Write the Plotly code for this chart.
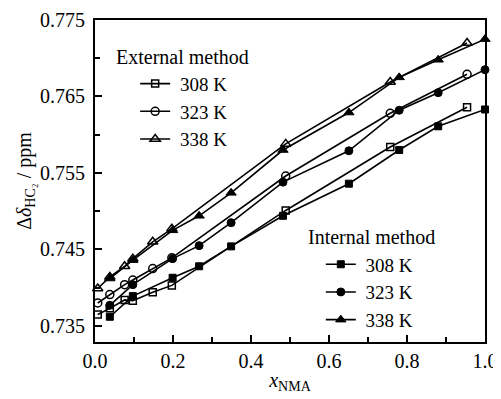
import plotly.graph_objects as go

# External method data
x_ext = [0.007, 0.038, 0.076, 0.097, 0.148, 0.197, 0.489, 0.757, 0.954]
ext_308 = [0.7365, 0.7373, 0.7384, 0.7383, 0.7394, 0.7403, 0.7501, 0.7584, 0.7636]
ext_323 = [0.7380, 0.7391, 0.7404, 0.7410, 0.7425, 0.7439, 0.7546, 0.7628, 0.7679]
ext_338 = [0.7399, 0.7414, 0.7428, 0.7438, 0.7460, 0.7477, 0.7588, 0.7669, 0.7720]

# Internal method data
x_int = [0.038, 0.097, 0.199, 0.267, 0.349, 0.482, 0.651, 0.780, 0.880, 1.0]
int_308 = [0.7362, 0.7389, 0.7413, 0.7428, 0.7454, 0.7494, 0.7536, 0.7580, 0.7611, 0.7633]
int_323 = [0.7377, 0.7404, 0.7438, 0.7455, 0.7485, 0.7538, 0.7579, 0.7632, 0.7655, 0.7685]
int_338 = [0.7412, 0.7436, 0.7475, 0.7494, 0.7524, 0.7580, 0.7629, 0.7675, 0.7698, 0.7725]

labels = ["308 K", "323 K", "338 K"]
y_ticks = [0.735, 0.745, 0.755, 0.765, 0.775]
x_ticks = [0.0, 0.2, 0.4, 0.6, 0.8, 1.0]

FONT = "Liberation Serif"
fig = go.Figure()

ext_sets = [(ext_308, "square-open", 7), (ext_323, "circle-open", 8), (ext_338, "triangle-up-open", 9)]
int_sets = [(int_308, "square", 7), (int_323, "circle", 8), (int_338, "triangle-up", 9)]

for (ys, sym, sz), lab in zip(ext_sets, labels):
    fig.add_trace(go.Scatter(
        x=x_ext, y=ys, mode="lines+markers", name=" " + lab, legend="legend",
        line=dict(color="black", width=1.6),
        marker=dict(symbol=sym, size=sz, color="black", line=dict(color="black", width=1.5)),
        cliponaxis=False))

for (ys, sym, sz), lab in zip(int_sets, labels):
    fig.add_trace(go.Scatter(
        x=x_int, y=ys, mode="lines+markers", name=" " + lab, legend="legend2",
        line=dict(color="black", width=1.6),
        marker=dict(symbol=sym, size=sz, color="black", line=dict(color="black", width=1)),
        cliponaxis=False))

fig.update_layout(
    width=501, height=399,
    margin=dict(l=87, r=24, t=12, b=65),
    paper_bgcolor="white", plot_bgcolor="white",
    font=dict(family=FONT, size=20, color="black"),
    showlegend=True,
    legend=dict(x=0.103, y=0.861, xanchor="left", yanchor="top",
                bgcolor="rgba(0,0,0,0)", font=dict(size=19, family=FONT),
                tracegroupgap=0, itemwidth=30),
    legend2=dict(x=0.579, y=0.300, xanchor="left", yanchor="top",
                 bgcolor="rgba(0,0,0,0)", font=dict(size=19, family=FONT),
                 tracegroupgap=0, itemwidth=30),
    xaxis=dict(range=[0, 1], tickvals=x_ticks, tickformat=".1f", automargin=False,
               ticks="inside", ticklen=7, tickwidth=1.5, tickcolor="black",
               minor=dict(dtick=0.1, tick0=0, ticks="inside", ticklen=5, tickwidth=1.5, tickcolor="black"),
               showline=True, linecolor="black", linewidth=2, mirror=True,
               showgrid=False, zeroline=False,
               title=dict(text="<i>x</i><sub>NMA</sub>", font=dict(size=20, family=FONT), standoff=2)),
    yaxis=dict(range=[0.7329, 0.775], tickvals=y_ticks, tickformat=".3f", automargin=False,
               ticks="inside", ticklen=7, tickwidth=1.5, tickcolor="black",
               minor=dict(dtick=0.005, tick0=0.735, ticks="inside", ticklen=5, tickwidth=1.5, tickcolor="black"),
               showline=True, linecolor="black", linewidth=2, mirror=True,
               showgrid=False, zeroline=False, ticklabelstandoff=4,
               title=dict(text="Δ<i>δ</i><sub>HC₂</sub> / ppm", font=dict(size=20, family=FONT), standoff=3)),
    annotations=[
        dict(text="External method", xref="paper", yref="paper", x=0.049, y=0.885,
             xanchor="left", yanchor="middle", showarrow=False, font=dict(size=20, family=FONT)),
        dict(text="Internal method", xref="paper", yref="paper", x=0.540, y=0.325,
             xanchor="left", yanchor="middle", showarrow=False, font=dict(size=20, family=FONT)),
    ],
)

fig.write_html("out.html")
